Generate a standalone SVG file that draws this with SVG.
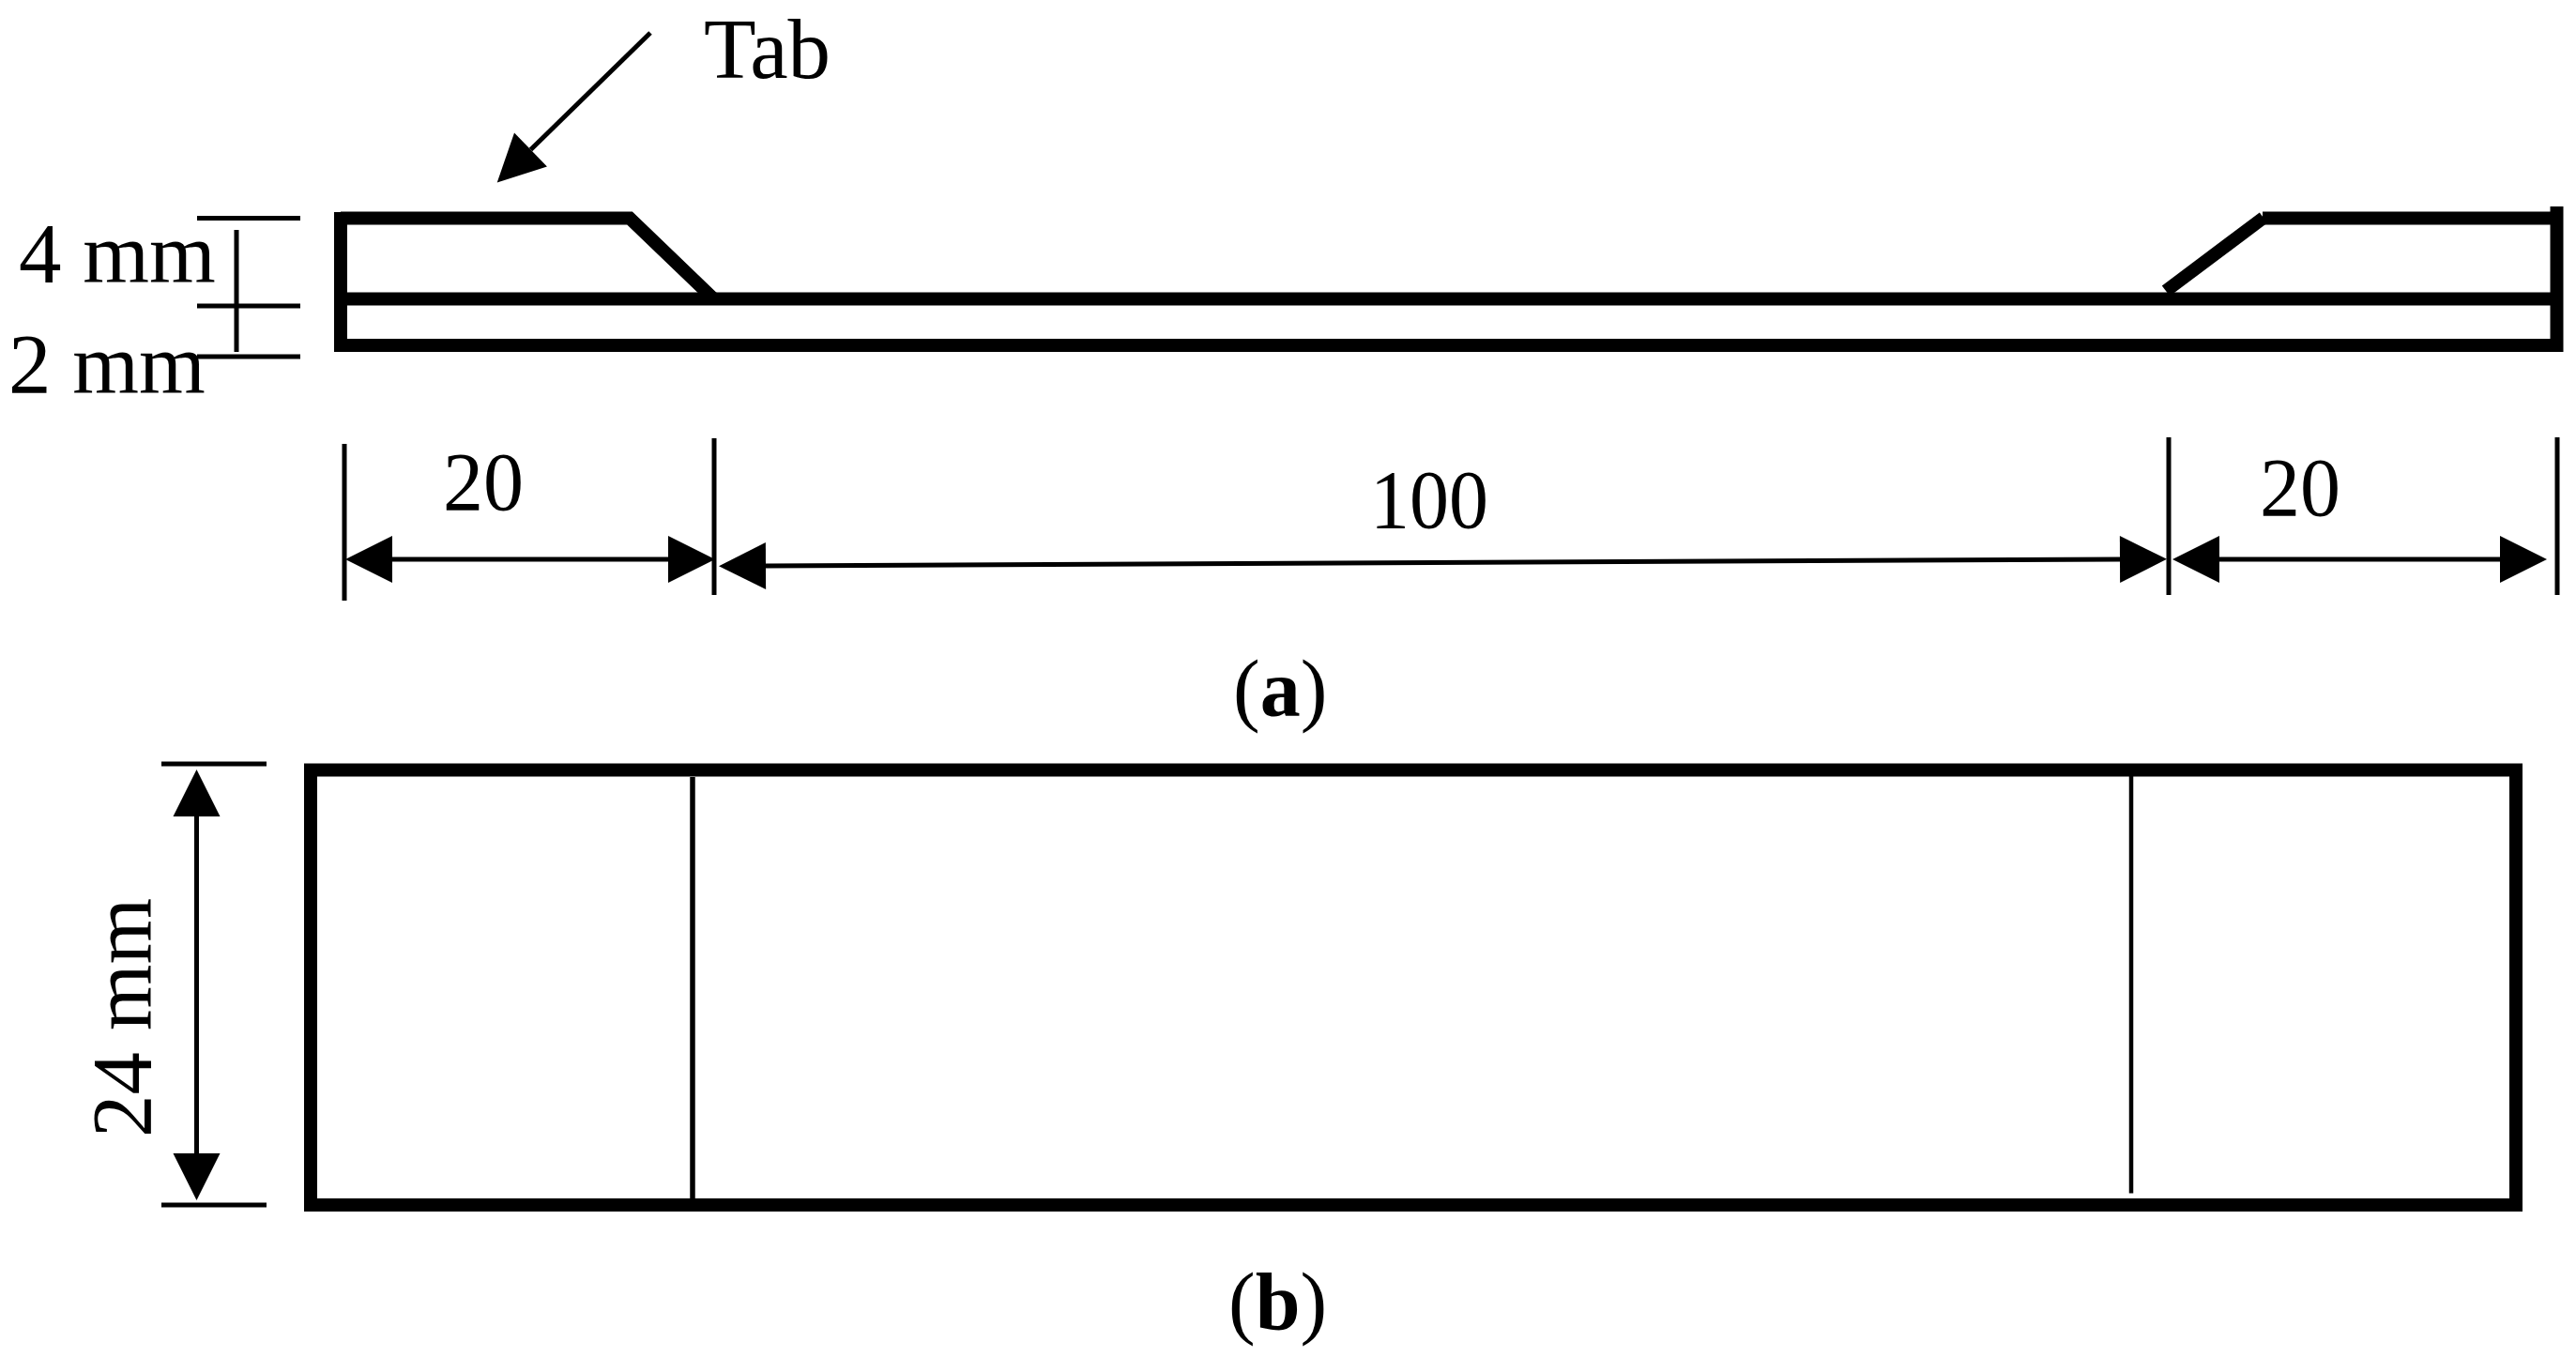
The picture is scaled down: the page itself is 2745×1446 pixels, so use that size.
<svg xmlns="http://www.w3.org/2000/svg" width="2745" height="1446" viewBox="0 0 2745 1446">
<style>
text{font-family:"Liberation Serif","Times New Roman",serif;font-size:88px;fill:#000}
.big{font-size:91px}
.cap{font-size:86px}
.b{font-weight:bold}
.thick{fill:none;stroke:#000;stroke-width:14;stroke-linecap:butt;stroke-linejoin:miter}
.thin{fill:none;stroke:#000;stroke-width:5}
.arrow{fill:none;stroke:#000;stroke-width:5;marker-start:url(#head);marker-end:url(#head)}
.arrow1{fill:none;stroke:#000;stroke-width:5;marker-end:url(#head)}
</style>
<defs>
<marker id="head" markerUnits="userSpaceOnUse" viewBox="0 0 50 50" markerWidth="50" markerHeight="50" refX="0" refY="25" orient="auto-start-reverse" overflow="visible"><path d="M0 0L50 25L0 50Z" fill="#000"/></marker>
</defs>
<rect width="2745" height="1446" fill="#fff"/>
<g id="side-view">
<path class="thick" d="M363 232.500H671L760 318"/>
<path class="thick" d="M363 226V368H2724.500V220"/>
<path class="thick" d="M363 318.500H2724.500"/>
<path class="thick" d="M2411 232.500H2724.500"/>
<path class="thick" d="M2412 232L2308 310"/>
</g>
<g id="top-view">
<rect class="thick" x="331" y="820.500" width="2350" height="463.500"/>
<path class="thin" d="M738 828V1278" style="stroke-width:5.500"/>
<path class="thin" d="M2271 827V1271.500" style="stroke-width:4.500"/>
</g>
<g id="connectors">
<path class="arrow1" d="M693 35L565.500 159.500"/>
<path class="thin" d="M210 232.500H320M210 326H320M210 380H320M252 245V375"/>
<path class="thin" d="M367 473V640M761 467V634M2311 466V634M2725 466V634"/>
<path class="arrow" d="M418 596H712"/>
<path class="arrow" d="M816 603L2259 596"/>
<path class="arrow" d="M2365 596H2664"/>
<path class="thin" d="M172 814H284M172 1284H284"/>
<path class="arrow" d="M209.500 870V1229"/>
</g>
<g id="labels">
<text id="label-tab" class="big" x="750" y="83">Tab</text>
<text id="label-4mm" class="big" x="20" y="301">4 mm</text>
<text id="label-2mm" class="big" x="9" y="419">2 mm</text>
<text id="label-20-left" x="472" y="543" textLength="86" lengthAdjust="spacingAndGlyphs">20</text>
<text id="label-100" x="1460" y="562" textLength="126" lengthAdjust="spacingAndGlyphs">100</text>
<text id="label-20-right" x="2408" y="549" textLength="86" lengthAdjust="spacingAndGlyphs">20</text>
<text id="label-a" class="cap" x="1314" y="763">(<tspan class="b">a</tspan>)</text>
<text id="label-b" class="cap" x="1309" y="1416">(<tspan class="b">b</tspan>)</text>
<text id="label-24mm" class="big" transform="translate(161 1212) rotate(-90)">24 mm</text>
</g>
</svg>
